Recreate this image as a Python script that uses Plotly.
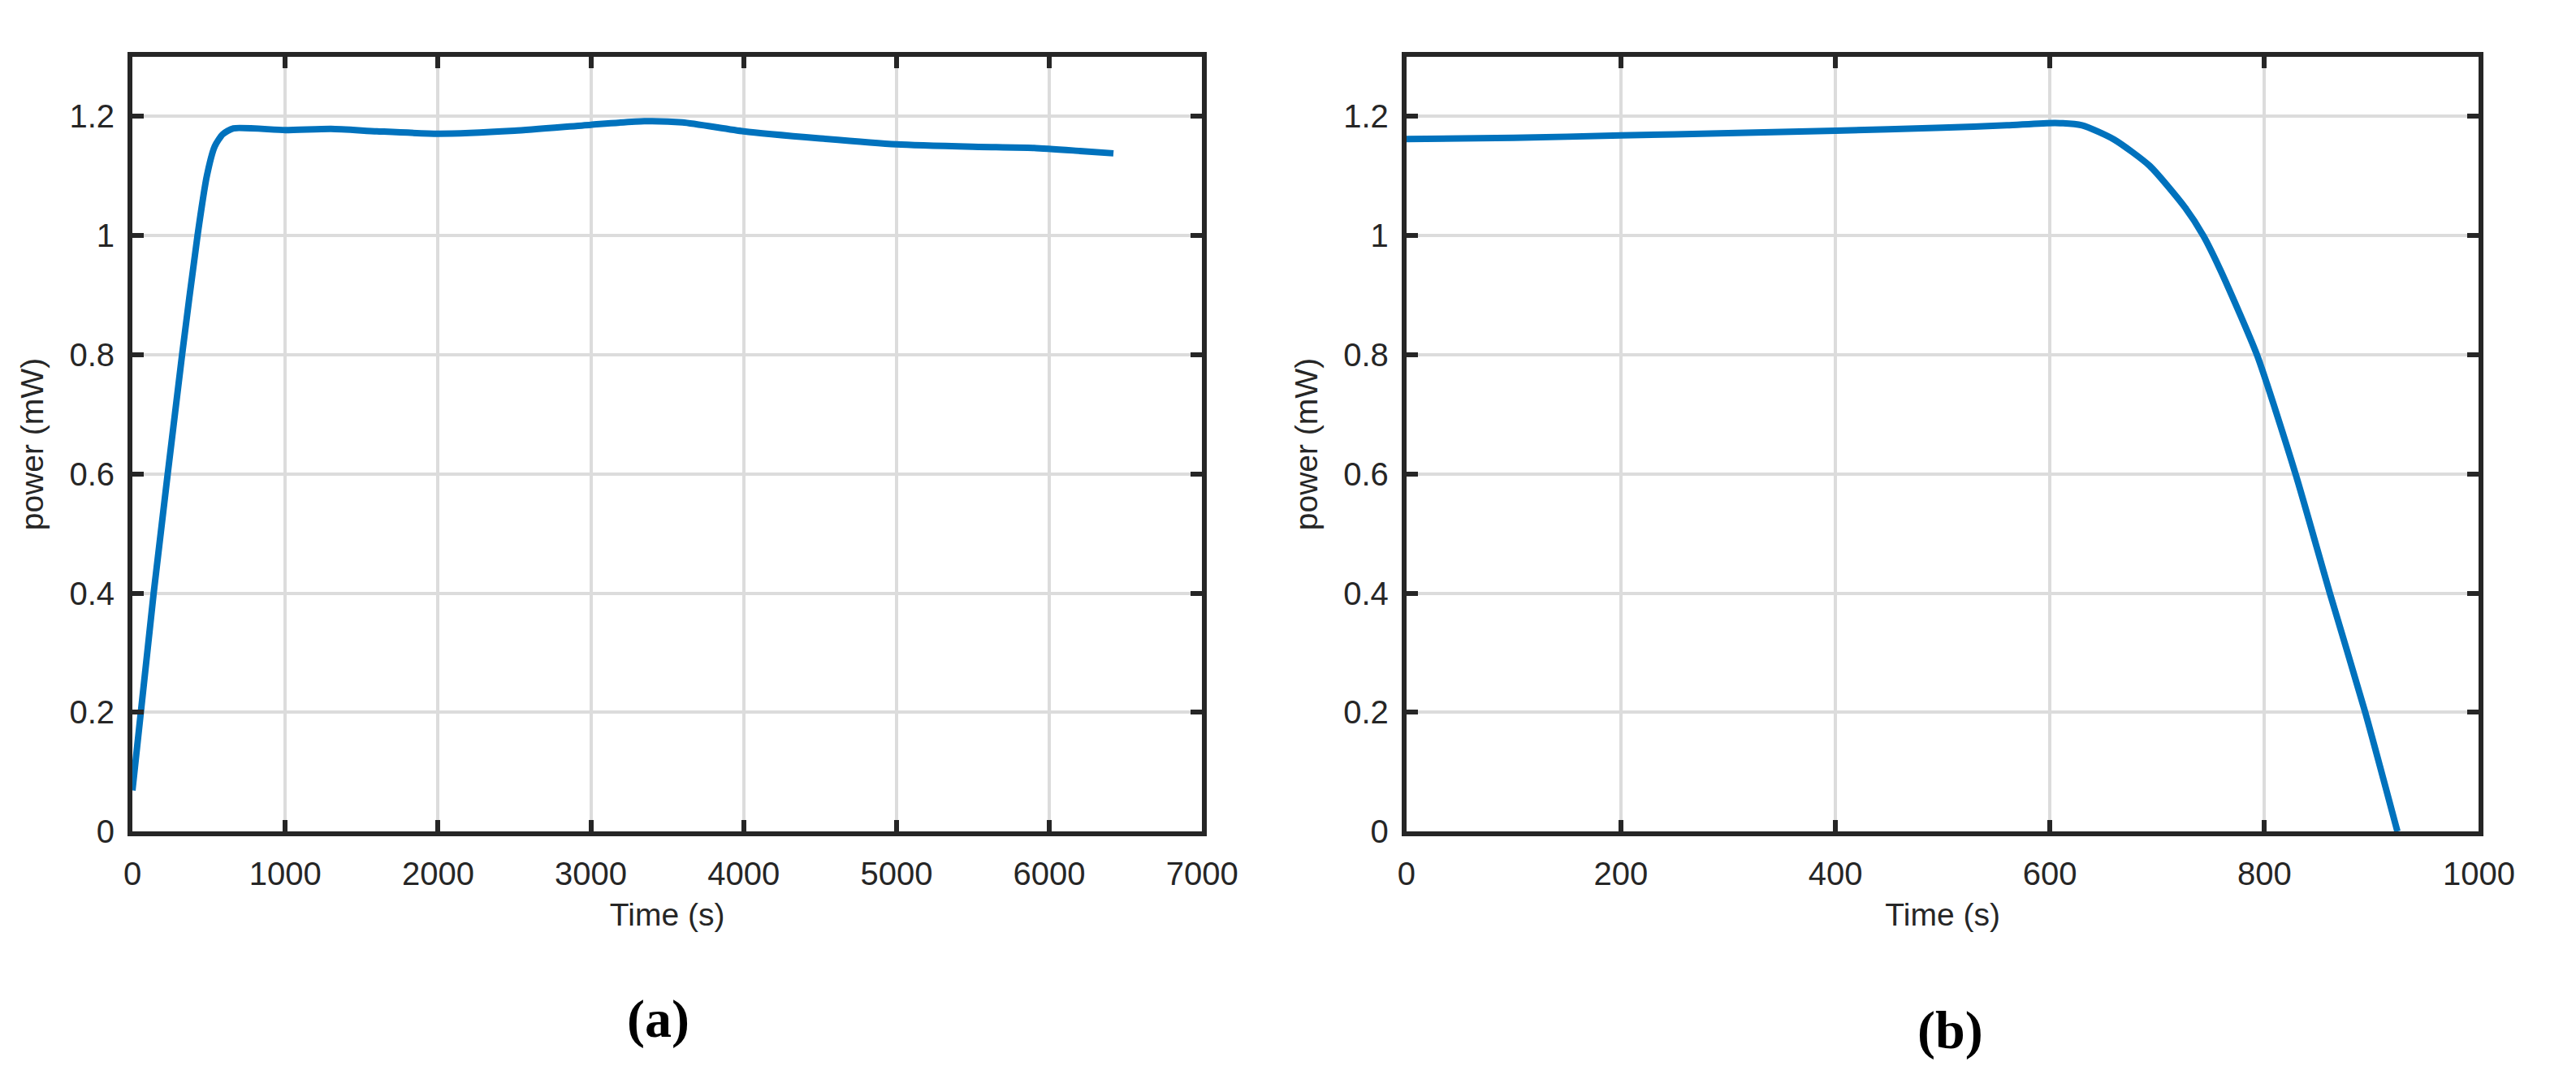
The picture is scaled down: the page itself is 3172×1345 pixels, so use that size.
import plotly.graph_objects as go

# panel (a): power ramp-up and plateau over the full run
time_a = [0, 139, 325, 426, 487, 539, 591, 661, 1000, 1300, 1600, 2000,
          2500, 3000, 3350, 3600, 4000, 4500, 5000, 5500, 5900, 6200, 6420]
power_a = [0.069, 0.4, 0.8, 1.0, 1.1, 1.15, 1.17, 1.18, 1.177, 1.179, 1.175, 1.171,
           1.176, 1.186, 1.192, 1.19, 1.175, 1.163, 1.153, 1.149, 1.147, 1.142, 1.138]

# panel (b): plateau then collapse
time_b = [0, 100, 200, 300, 400, 500, 560, 605, 630, 660, 693, 726, 743, 759,
          793, 829, 861, 894, 924]
power_b = [1.162, 1.164, 1.168, 1.172, 1.176, 1.181, 1.185, 1.189, 1.185, 1.161, 1.117,
           1.047, 1.0, 0.942, 0.8, 0.6, 0.4, 0.2, 0.0]

x_ticks_a = [0, 1000, 2000, 3000, 4000, 5000, 6000, 7000]
x_ticks_b = [0, 200, 400, 600, 800, 1000]
y_ticks = [0, 0.2, 0.4, 0.6, 0.8, 1, 1.2]
panel_labels = ["(a)", "(b)"]

W, H = 3172, 1345
LINE_COLOR = "#0072BD"
AXIS_COLOR = "#262626"
GRID_COLOR = "#dcdcdc"
FONT = "Liberation Sans, Arial, sans-serif"

fig = go.Figure()
fig.add_trace(go.Scatter(x=time_a, y=power_a, mode="lines", xaxis="x", yaxis="y",
                         line=dict(color=LINE_COLOR, width=8, shape="spline", smoothing=0.6),
                         showlegend=False))
fig.add_trace(go.Scatter(x=time_b, y=power_b, mode="lines", xaxis="x2", yaxis="y2",
                         line=dict(color=LINE_COLOR, width=8, shape="spline", smoothing=0.6),
                         showlegend=False))


def axis_style(**kw):
    base = dict(
        showline=True, linewidth=6, linecolor=AXIS_COLOR, mirror="ticks",
        ticks="inside", ticklen=14, tickwidth=6, tickcolor=AXIS_COLOR,
        showgrid=True, gridcolor=GRID_COLOR, gridwidth=4, zeroline=False,
        tickfont=dict(family=FONT, size=40, color=AXIS_COLOR),
        title_font=dict(family=FONT, size=39, color=AXIS_COLOR),
    )
    base.update(kw)
    return base


x_style = dict(ticklabelstandoff=12, title_standoff=18)
y_style = dict(ticklabelstandoff=8, title_standoff=22)

y_dom = [(H - 1033) / H, (H - 63) / H]
fig.update_layout(
    width=W, height=H,
    margin=dict(l=0, r=0, t=0, b=0),
    paper_bgcolor="white", plot_bgcolor="white",
    xaxis=axis_style(domain=[146.6 / W, 1487 / W], range=[0, 7000], tickvals=x_ticks_a,
                     anchor="y", title_text="Time (s)", **x_style),
    yaxis=axis_style(domain=y_dom, range=[0, 1.3], tickvals=y_ticks, anchor="x",
                     title_text="power (mW)", **y_style),
    xaxis2=axis_style(domain=[1743 / W, 3087 / W], range=[0, 1000], tickvals=x_ticks_b,
                      anchor="y2", title_text="Time (s)", **x_style),
    yaxis2=axis_style(domain=y_dom, range=[0, 1.3], tickvals=y_ticks, anchor="x2",
                      title_text="power (mW)", **y_style),
)

for label, xc, yc in zip(panel_labels, [805, 2425], [1268, 1282]):
    fig.add_annotation(text=f"<b>{label}</b>", xref="paper", yref="paper",
                       x=xc / W, y=1 - yc / H, xanchor="center", yanchor="middle",
                       showarrow=False,
                       font=dict(family="Liberation Serif, serif", size=66, color="black"))

fig.write_html("out.html")
